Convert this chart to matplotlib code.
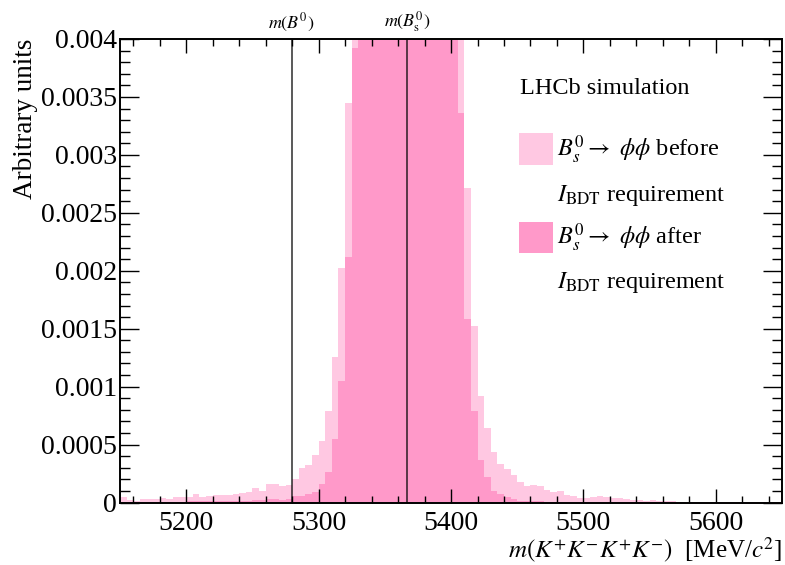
import numpy as np
import matplotlib
matplotlib.use("Agg")
import matplotlib.pyplot as plt
from matplotlib.patches import Rectangle
from matplotlib.ticker import MultipleLocator, FuncFormatter

plt.rcParams["font.family"] = ["Liberation Serif", "DejaVu Serif"]
plt.rcParams["mathtext.fontset"] = "stix"

# m(K+K-K+K-) histogram, 5 MeV bins from 5150 to 5650
bin_lo, bin_hi, bin_w = 5150, 5650, 5

before_bdt = [
    0.000045, 0.000022, 0.000012, 0.000030, 0.000030, 0.000032, 0.000042, 0.000032,
    0.000045, 0.000050, 0.000045, 0.000074, 0.000050, 0.000057, 0.000066, 0.000066,
    0.000066, 0.000070, 0.000085, 0.000095, 0.000128, 0.000100, 0.000163, 0.000157,
    0.000143, 0.000155, 0.000204, 0.000300, 0.000325, 0.000412, 0.000527, 0.000790,
    0.001260, 0.002020, 0.003450,
    # peak (5325-5405), above the plotted range
    0.00520, 0.00780, 0.01150, 0.01600, 0.02050, 0.02450, 0.02720, 0.02850,
    0.02800, 0.02580, 0.02220, 0.01780, 0.01320, 0.00920, 0.00640, 0.00470, 0.00430,
    0.002710, 0.001520, 0.000920, 0.000640, 0.000435, 0.000330, 0.000288, 0.000238,
    0.000180, 0.000146, 0.000152, 0.000140, 0.000108, 0.000091, 0.000100, 0.000065,
    0.000054, 0.000042, 0.000040, 0.000045, 0.000054, 0.000050, 0.000040, 0.000035,
    0.000028, 0.000025, 0.000018, 0.000016, 0.000018, 0.000017, 0.000014, 0.000010,
    0.000008, 0.000006, 0.000006, 0.000005, 0.000005, 0.000004, 0.000004, 0.000004,
    0.000004, 0.000003, 0.000003, 0.000003, 0.000003, 0.000002, 0.000002, 0.000002,
]

after_bdt = [
    0.000004, 0.000005, 0.000004, 0.000006, 0.000005, 0.000006, 0.000007, 0.000006,
    0.000008, 0.000008, 0.000009, 0.000010, 0.000010, 0.000011, 0.000012, 0.000012,
    0.000013, 0.000014, 0.000015, 0.000016, 0.000018, 0.000020, 0.000030, 0.000030,
    0.000025, 0.000028, 0.000056, 0.000060, 0.000070, 0.000094, 0.000160, 0.000260,
    0.000550, 0.001050, 0.002120, 0.003920,
    # peak (5330-5400), above the plotted range
    0.00620, 0.00950, 0.01400, 0.01900, 0.02400, 0.02850, 0.03100, 0.03150,
    0.02950, 0.02550, 0.02050, 0.01500, 0.01050, 0.00700, 0.00480,
    0.003360, 0.001580, 0.000790, 0.000370, 0.000220, 0.000100, 0.000074, 0.000045,
    0.000028, 0.000017,
    0.000012, 0.000010, 0.000009, 0.000008, 0.000008, 0.000007, 0.000006, 0.000006,
    0.000006, 0.000005, 0.000005, 0.000005, 0.000004, 0.000004, 0.000004, 0.000004,
    0.000003, 0.000003, 0.000003, 0.000003, 0.000003, 0.000002, 0.000002, 0.000002,
    0.000002, 0.000002, 0.000002, 0.000002, 0.000001, 0.000001, 0.000001, 0.000001,
    0.000001, 0.000001, 0.000001, 0.000001, 0.000001, 0.000001, 0.000001,
]

mass_B0 = 5279.6
mass_Bs = 5366.9

color_before = "#ffc8e2"
color_after = "#ff99c9"

edges = np.arange(bin_lo, bin_hi + bin_w, bin_w)

fig = plt.figure(figsize=(7.85, 5.65), dpi=100)
ax = fig.add_axes([0.1529, 0.1106, 0.8433, 0.8204])

ax.stairs(before_bdt, edges, fill=True, color=color_before, lw=0)
ax.stairs(after_bdt, edges, fill=True, color=color_after, lw=0)

for m, lab in [(mass_B0, r"$m(B^0)$"), (mass_Bs, r"$m(B^0_{\rm s})$")]:
    ax.axvline(m, color="black", alpha=0.7, lw=1.3)
    ax.text(m, 1.01, lab, transform=ax.get_xaxis_transform(),
            ha="center", va="bottom", fontsize=13)

ax.set_xlim(bin_lo, bin_hi)
ax.set_ylim(0, 0.004)

ax.xaxis.set_major_locator(MultipleLocator(100))
ax.xaxis.set_minor_locator(MultipleLocator(20))
ax.yaxis.set_major_locator(MultipleLocator(0.0005))
ax.yaxis.set_minor_locator(MultipleLocator(0.0001))
ax.yaxis.set_major_formatter(FuncFormatter(lambda v, p: f"{v:g}"))

ax.tick_params(which="both", direction="in", top=True, right=True, width=1.0,
               labelsize=20)
ax.tick_params(axis="x", which="major", length=10, pad=6)
ax.tick_params(axis="x", which="minor", length=5)
ax.tick_params(axis="y", which="major", length=13.5, pad=2)
ax.tick_params(axis="y", which="minor", length=7)
for sp in ax.spines.values():
    sp.set_linewidth(1.4)

ax.set_xlabel(r"$m(K^{+}K^{-}K^{+}K^{-})$  [MeV/$c^{2}$]", fontsize=18,
              loc="right", labelpad=0)
ax.set_ylabel("Arbitrary units", fontsize=19.5, loc="top", labelpad=2)

# legend block
ax.text(0.604, 0.894, "LHCb simulation", transform=ax.transAxes,
        ha="left", va="center", fontsize=17.5)
ax.add_patch(Rectangle((0.603, 0.728), 0.051, 0.069, transform=ax.transAxes,
                       color=color_before, lw=0))
ax.add_patch(Rectangle((0.603, 0.538), 0.051, 0.067, transform=ax.transAxes,
                       color=color_after, lw=0))
ax.text(0.660, 0.760, r"$B^0_s \rightarrow\ \phi\phi$ before", transform=ax.transAxes,
        ha="left", va="center", fontsize=17.5)
ax.text(0.660, 0.663, r"$I_{\rm BDT}$ requirement", transform=ax.transAxes,
        ha="left", va="center", fontsize=17.5)
ax.text(0.660, 0.570, r"$B^0_s \rightarrow\ \phi\phi$ after", transform=ax.transAxes,
        ha="left", va="center", fontsize=17.5)
ax.text(0.660, 0.474, r"$I_{\rm BDT}$ requirement", transform=ax.transAxes,
        ha="left", va="center", fontsize=17.5)

fig.savefig("out.png", dpi=100)
